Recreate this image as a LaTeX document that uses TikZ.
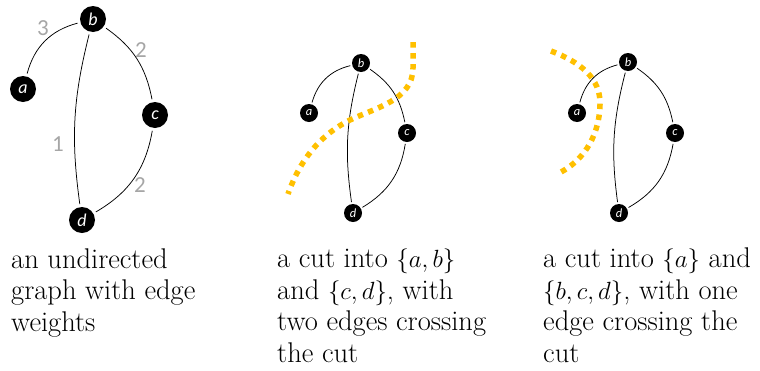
\documentclass[tikz,border=0pt]{standalone}
\usepackage{fontspec}
\usepackage{tikz}
\usetikzlibrary{positioning}
\newfontfamily\vfont{Carlito}
\definecolor{cutyellow}{HTML}{FFC000}
\definecolor{wgray}{HTML}{A6A6A6}

\begin{document}
\begin{tikzpicture}[x=1pt, y=-1pt,
      vtx/.style={circle, fill=black, text=white, inner sep=0pt, minimum size=26pt,
                  outer sep=3pt, font=\vfont\itshape\fontsize{18}{18}\selectfont},
      svtx/.style={vtx, minimum size=18pt, outer sep=2pt,
                   font=\vfont\itshape\fontsize{12.5}{12.5}\selectfont},
      wlabel/.style={text=wgray, font=\vfont\fontsize{23}{23}\selectfont},
      edge/.style={line width=0.75pt, black},
      cutline/.style={cutyellow, line width=5.5pt, dash pattern=on 5.5pt off 5.5pt},
      caption/.style={anchor=base west, inner sep=0pt, align=left,
                      font=\fontsize{28.5}{31.6}\selectfont}]
    \useasboundingbox (0,0) rectangle (760,370);

    % weighted graph
    \node[vtx] (b) at (93,19) {b};
    \node[vtx] (a) at (23,89) {a};
    \node[vtx] (c) at (155,115) {c};
    \node[vtx] (d) at (82,220) {d};
    \draw[edge] (a) to[bend left=30] (b);
    \draw[edge] (b) to[bend left=22] (c);
    \draw[edge] (b) to[bend right=11] (d);
    \draw[edge] (c) to[bend left=25] (d);
    \node[wlabel] (w1) at (43,28) {3};
    \node[wlabel] (w2) at (141,50) {2};
    \node[wlabel] (w3) at (58,144) {1};
    \node[wlabel] (w4) at (140,185) {2};

    % cut {a,b} | {c,d}
    \node[svtx] (b2) at (361,63) {b};
    \node[svtx] (a2) at (309,113) {a};
    \node[svtx] (c2) at (407,133) {c};
    \node[svtx] (d2) at (353,213) {d};
    \draw[edge] (a2) to[bend left=30] (b2);
    \draw[edge] (b2) to[bend left=22] (c2);
    \draw[edge] (b2) to[bend right=11] (d2);
    \draw[edge] (c2) to[bend left=25] (d2);
    \draw[cutline] (413,42) -- (413,68) .. controls (413,100) and (375,108) .. (350,120)
      .. controls (320,135) and (300,160) .. (288,194);

    % cut {a} | {b,c,d}
    \node[svtx] (b3) at (628,62) {b};
    \node[svtx] (a3) at (577,113) {a};
    \node[svtx] (c3) at (675,133) {c};
    \node[svtx] (d3) at (619,213) {d};
    \draw[edge] (a3) to[bend left=30] (b3);
    \draw[edge] (b3) to[bend left=22] (c3);
    \draw[edge] (b3) to[bend right=11] (d3);
    \draw[edge] (c3) to[bend left=25] (d3);
    \draw[cutline] (551,51) .. controls (580,62) and (601,78) .. (600,105)
      .. controls (599,140) and (580,162) .. (561,172);

    % captions (base = last line)
    \node[caption] (cap1) at (11,331.5) {an undirected\\graph with edge\\weights};
    \node[caption] (cap2) at (277,362.5) {a cut into $\{a,b\}$\\and $\{c,d\}$, with\\two edges crossing\\the cut};
    \node[caption] (cap3) at (543,362.5) {a cut into $\{a\}$ and\\$\{b,c,d\}$, with one\\edge crossing the\\cut};
  \end{tikzpicture}
\end{document}
